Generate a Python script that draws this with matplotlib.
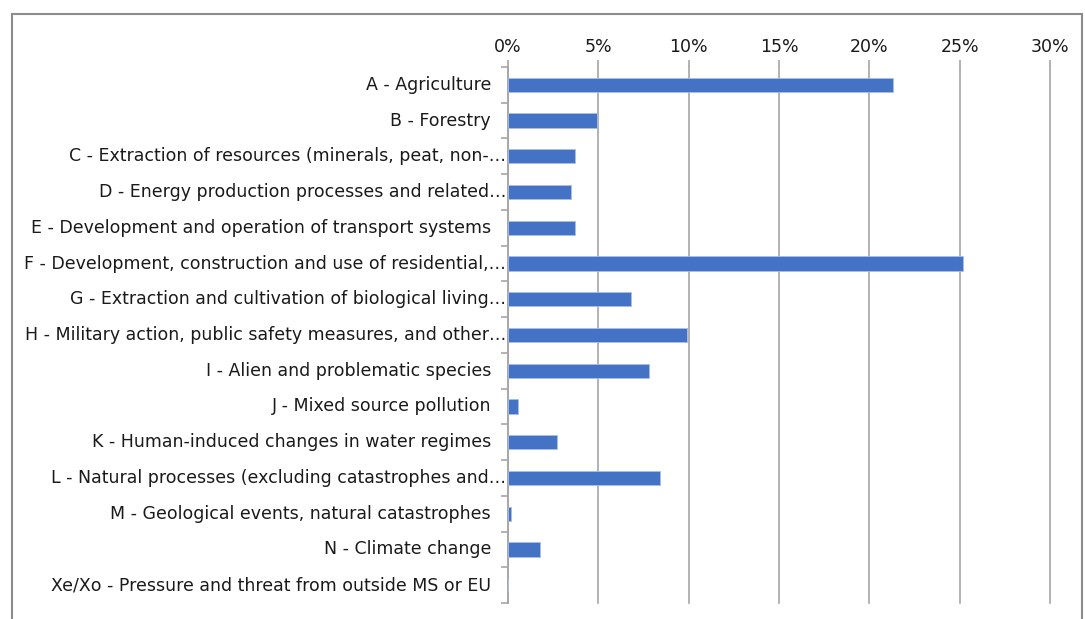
import matplotlib.pyplot as plt
from matplotlib.patches import Rectangle
from matplotlib.ticker import PercentFormatter

categories = [
    "A - Agriculture",
    "B - Forestry",
    "C - Extraction of resources (minerals, peat, non-…",
    "D - Energy production processes and related…",
    "E - Development and operation of transport systems",
    "F - Development, construction and use of residential,…",
    "G - Extraction and cultivation of biological living…",
    "H - Military action, public safety measures, and other…",
    "I - Alien and problematic species",
    "J - Mixed source pollution",
    "K - Human-induced changes in water regimes",
    "L - Natural processes (excluding catastrophes and…",
    "M - Geological events, natural catastrophes",
    "N - Climate change",
    "Xe/Xo - Pressure and threat from outside MS or EU",
]
shares = [21.3, 4.9, 3.7, 3.5, 3.7, 25.2, 6.8, 9.9, 7.8, 0.55, 2.7, 8.4, 0.15, 1.75, 0.0]

plt.rcParams['font.family'] = ['DejaVu Sans']

fig = plt.figure(figsize=(10.85, 6.19), dpi=100)
fig.patches.append(Rectangle((12 / 1085, -0.1), 1070 / 1085, 1.1 - 14 / 619,
                             transform=fig.transFigure, fill=False,
                             edgecolor='#8c8c8c', linewidth=1.5))

ax = fig.add_axes([508 / 1085, 1 - 603 / 619, 542 / 1085, 536 / 619])
y = list(range(len(categories)))
ax.barh(y, shares, height=0.4, color='#4472c4', edgecolor='#a9bfe6', linewidth=0.6, zorder=3)
ax.set_ylim(len(categories) - 0.5, -0.5)
ax.set_xlim(0, 30)
ax.set_xticks(range(0, 31, 5))
ax.xaxis.set_major_formatter(PercentFormatter(decimals=0))
ax.xaxis.tick_top()
ax.grid(axis='x', color='#a6a6a6', linewidth=1.2, zorder=0)
for gl in ax.get_xgridlines():
    gl.set_clip_on(False)

# category labels: excel cuts long ones with an ellipsis that runs up to the axis
ax.set_yticks(y)
ax.set_yticklabels([])
for i, name in enumerate(categories):
    pad = 2 if name.endswith("…") else 17
    ax.annotate(name, xy=(0, i), xycoords=('axes fraction', 'data'),
                xytext=(-pad, 0), textcoords='offset pixels',
                ha='right', va='center', fontsize=12.5, color='#1a1a1a')
ax.set_yticks([i + 0.5 for i in range(-1, len(categories))], minor=True)
ax.tick_params(axis='y', which='major', length=0)
ax.tick_params(axis='y', which='minor', length=5, color='#a6a6a6', width=1.2)
ax.tick_params(axis='x', length=5, color='#a6a6a6', width=1.2, labelsize=12.5, labelcolor='#1a1a1a', pad=3)

for side in ['top', 'right', 'bottom']:
    ax.spines[side].set_visible(False)
ax.spines['left'].set_color('#a6a6a6')
ax.spines['left'].set_linewidth(1.2)

fig.savefig('out.png', dpi=100)
